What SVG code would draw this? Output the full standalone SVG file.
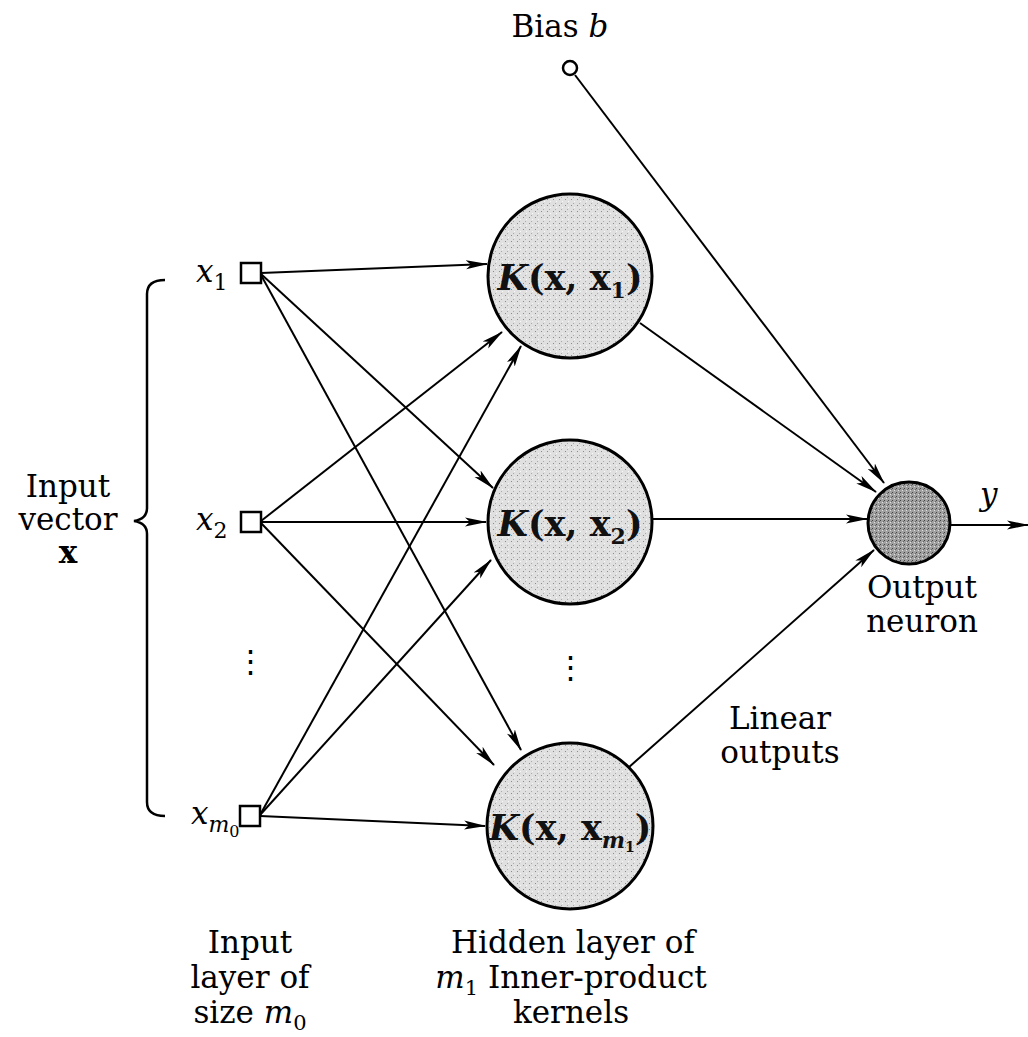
<svg xmlns="http://www.w3.org/2000/svg" width="1028" height="1037" viewBox="0 0 1028 1037">
<style>
.t{font-family:"DejaVu Serif","Liberation Serif",serif;font-size:31px;fill:#000}
.i{font-style:italic}
.k{font-family:"DejaVu Serif","Liberation Serif",serif;font-size:35px;font-weight:bold;fill:#111}
.c{stroke:#000;stroke-width:2;fill:none}
.hid{stroke:#000;stroke-width:3}
.sq{fill:#fff;stroke:#000;stroke-width:2.5}
</style>
<defs>
<marker id="arr" markerWidth="22" markerHeight="10" refX="21" refY="5" orient="auto" markerUnits="userSpaceOnUse">
<path d="M0,0.5 L22,5 L0,9.5 L5,5 z" fill="#000"/>
</marker>
<pattern id="dots" width="6" height="6" patternUnits="userSpaceOnUse">
<rect width="6" height="6" fill="#e0e0e0"/>
<rect x="1" y="1" width="1" height="1" fill="#8a8a8a"/>
<rect x="4" y="3" width="1" height="1" fill="#f8f8f8"/>
<rect x="3" y="5" width="1" height="1" fill="#aaa"/>
</pattern>
<pattern id="dark" width="4" height="4" patternUnits="userSpaceOnUse">
<rect width="4" height="4" fill="#a0a0a0"/>
<rect x="0" y="0" width="1" height="1" fill="#444"/>
<rect x="2" y="2" width="1" height="1" fill="#e0e0e0"/>
<rect x="3" y="1" width="1" height="1" fill="#666"/>
</pattern>
</defs>

<g id="connectors" class="c" marker-end="url(#arr)">
<line x1="261" y1="273" x2="487" y2="264"/>
<line x1="261" y1="274" x2="493" y2="488"/>
<line x1="261" y1="275" x2="521" y2="750"/>
<line x1="261" y1="521" x2="502" y2="332"/>
<line x1="261" y1="522" x2="486" y2="522"/>
<line x1="261" y1="523" x2="494" y2="765"/>
<line x1="260" y1="815" x2="521" y2="346"/>
<line x1="260" y1="815" x2="491" y2="560"/>
<line x1="260" y1="816" x2="485" y2="826"/>
<line x1="640" y1="323" x2="876" y2="492"/>
<line x1="575" y1="75" x2="884" y2="483"/>
<line x1="652" y1="519" x2="867" y2="519"/>
<line x1="628" y1="768" x2="874" y2="550"/>
<line x1="950" y1="525" x2="1028" y2="525"/>
</g>

<g id="bias">
<circle cx="570" cy="68" r="7" fill="#fff" stroke="#000" stroke-width="2.5"/>
<text class="t" x="560" y="37" text-anchor="middle">Bias <tspan class="i">b</tspan></text>
</g>

<g id="in1">
<rect class="sq" x="241" y="263" width="20" height="20"/>
<text class="t i" x="196" y="282">x<tspan font-size="22" font-style="normal" dy="8">1</tspan></text>
</g>
<g id="in2">
<rect class="sq" x="241" y="512" width="20" height="20"/>
<text class="t i" x="196" y="530">x<tspan font-size="22" font-style="normal" dy="8">2</tspan></text>
</g>
<g id="inm">
<rect class="sq" x="240" y="806" width="20" height="20"/>
<text class="t i" x="191" y="824">x<tspan font-size="22" dy="8">m</tspan><tspan font-size="16" font-style="normal" dy="5">0</tspan></text>
</g>
<text class="t" x="250" y="672" text-anchor="middle">⋮</text>

<g id="h1">
<circle class="hid" cx="570" cy="276" r="82" fill="url(#dots)"/>
<text class="k" x="570" y="290" text-anchor="middle"><tspan font-style="italic">K</tspan>(x, x<tspan font-size="22" dy="8">1</tspan><tspan dy="-8">)</tspan></text>
</g>
<g id="h2">
<circle class="hid" cx="570" cy="522" r="82" fill="url(#dots)"/>
<text class="k" x="570" y="536" text-anchor="middle"><tspan font-style="italic">K</tspan>(x, x<tspan font-size="22" dy="8">2</tspan><tspan dy="-8">)</tspan></text>
</g>
<text class="t" x="570" y="678" text-anchor="middle">⋮</text>
<g id="h3">
<circle class="hid" cx="570" cy="826" r="83" fill="url(#dots)"/>
<text class="k" x="570" y="840" text-anchor="middle"><tspan font-style="italic">K</tspan>(x, x<tspan font-size="22" font-style="italic" dy="8">m</tspan><tspan font-size="14" dy="4">1</tspan><tspan dy="-12">)</tspan></text>
</g>

<g id="out">
<circle cx="909" cy="523" r="41" fill="url(#dark)" stroke="#000" stroke-width="3"/>
<text class="t i" x="980" y="505">y</text>
<text class="t" x="922" y="598" text-anchor="middle">Output</text>
<text class="t" x="922" y="632" text-anchor="middle">neuron</text>
</g>

<g id="brace">
<path d="M165,280 Q147,280 147,294 L147,508 Q147,519 134,521 Q147,523 147,534 L147,802 Q147,816 165,816" fill="none" stroke="#000" stroke-width="2.5"/>
<text class="t" x="68" y="497" text-anchor="middle">Input</text>
<text class="t" x="68" y="530" text-anchor="middle">vector</text>
<text class="t" x="68" y="563" text-anchor="middle" font-weight="bold">x</text>
</g>

<text class="t" x="780" y="729" text-anchor="middle">Linear</text>
<text class="t" x="780" y="763" text-anchor="middle">outputs</text>

<g id="labels">
<text class="t" x="250" y="953" text-anchor="middle">Input</text>
<text class="t" x="250" y="988" text-anchor="middle">layer of</text>
<text class="t" x="250" y="1023" text-anchor="middle">size <tspan class="i">m</tspan><tspan font-size="21" dy="7">0</tspan></text>
<text class="t" x="573" y="953" text-anchor="middle">Hidden layer of</text>
<text class="t" x="571" y="988" text-anchor="middle"><tspan class="i">m</tspan><tspan font-size="21" dy="7">1</tspan><tspan dy="-7"> Inner-product</tspan></text>
<text class="t" x="571" y="1023" text-anchor="middle">kernels</text>
</g>
</svg>
